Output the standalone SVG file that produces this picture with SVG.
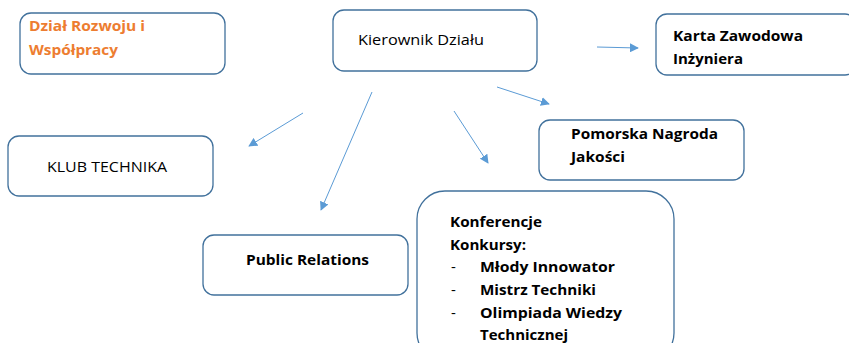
<svg xmlns="http://www.w3.org/2000/svg" width="849" height="343" viewBox="0 0 849 343">
<style>
.box{fill:#fff;stroke:#41719C;stroke-width:1.3}
.t{font-family:"Open Sans","Liberation Sans",sans-serif;font-size:15px;fill:#000}
.b{font-weight:bold}
.o{fill:#ED7D31}
.c{stroke:#5B9BD5;stroke-width:1;fill:none;marker-end:url(#ah)}
</style>
<defs>
<marker id="ah" viewBox="0 0 10 10" refX="9" refY="5" markerWidth="9" markerHeight="9" markerUnits="userSpaceOnUse" orient="auto">
<path d="M0,0 L10,5 L0,10 z" fill="#5B9BD5"/>
</marker>
</defs>
<rect width="849" height="343" fill="#fff"/>
<g id="connectors">
<line class="c" x1="303" y1="113" x2="249" y2="146"/>
<line class="c" x1="372" y1="92" x2="321" y2="210"/>
<line class="c" x1="454" y1="111" x2="488" y2="163"/>
<line class="c" x1="497" y1="87" x2="549" y2="104"/>
<line class="c" x1="597" y1="47" x2="638" y2="48"/>
</g>
<g id="dzial">
<rect class="box" x="20" y="13" width="205" height="61" rx="11"/>
<text class="t b o" x="29" y="31" textLength="116" lengthAdjust="spacingAndGlyphs">Dział Rozwoju i</text>
<text class="t b o" x="29" y="55" textLength="89" lengthAdjust="spacingAndGlyphs">Współpracy</text>
</g>
<g id="kierownik">
<rect class="box" x="333" y="10" width="204" height="61" rx="11"/>
<text class="t" x="358" y="45" textLength="126" lengthAdjust="spacingAndGlyphs">Kierownik Działu</text>
</g>
<g id="karta">
<rect class="box" x="656" y="14" width="200" height="61" rx="11"/>
<text class="t b" x="673" y="41" textLength="130" lengthAdjust="spacingAndGlyphs">Karta Zawodowa</text>
<text class="t b" x="673" y="64" textLength="70" lengthAdjust="spacingAndGlyphs">Inżyniera</text>
</g>
<g id="klub">
<rect class="box" x="8" y="136" width="205" height="60" rx="11"/>
<text class="t" x="47" y="172" textLength="120" lengthAdjust="spacingAndGlyphs">KLUB TECHNIKA</text>
</g>
<g id="pomorska">
<rect class="box" x="539" y="120" width="205" height="60" rx="11"/>
<text class="t b" x="571" y="139" textLength="147" lengthAdjust="spacingAndGlyphs">Pomorska Nagroda</text>
<text class="t b" x="571" y="162" textLength="54" lengthAdjust="spacingAndGlyphs">Jakości</text>
</g>
<g id="pr">
<rect class="box" x="203" y="235" width="205" height="60" rx="11"/>
<text class="t b" x="246" y="265" textLength="123" lengthAdjust="spacingAndGlyphs">Public Relations</text>
</g>
<g id="konferencje">
<rect class="box" x="417" y="191" width="257" height="170" rx="28"/>
<text class="t b" x="450" y="227" textLength="92" lengthAdjust="spacingAndGlyphs">Konferencje</text>
<text class="t b" x="450" y="250" textLength="76" lengthAdjust="spacingAndGlyphs">Konkursy:</text>
<text class="t" x="451" y="272">-</text>
<text class="t b" x="480" y="272" textLength="135" lengthAdjust="spacingAndGlyphs">Młody Innowator</text>
<text class="t" x="451" y="295">-</text>
<text class="t b" x="480" y="295" textLength="116" lengthAdjust="spacingAndGlyphs">Mistrz Techniki</text>
<text class="t" x="451" y="318">-</text>
<text class="t b" x="480" y="318" textLength="142" lengthAdjust="spacingAndGlyphs">Olimpiada Wiedzy</text>
<text class="t b" x="480" y="340" textLength="88" lengthAdjust="spacingAndGlyphs">Technicznej</text>
</g>
</svg>
